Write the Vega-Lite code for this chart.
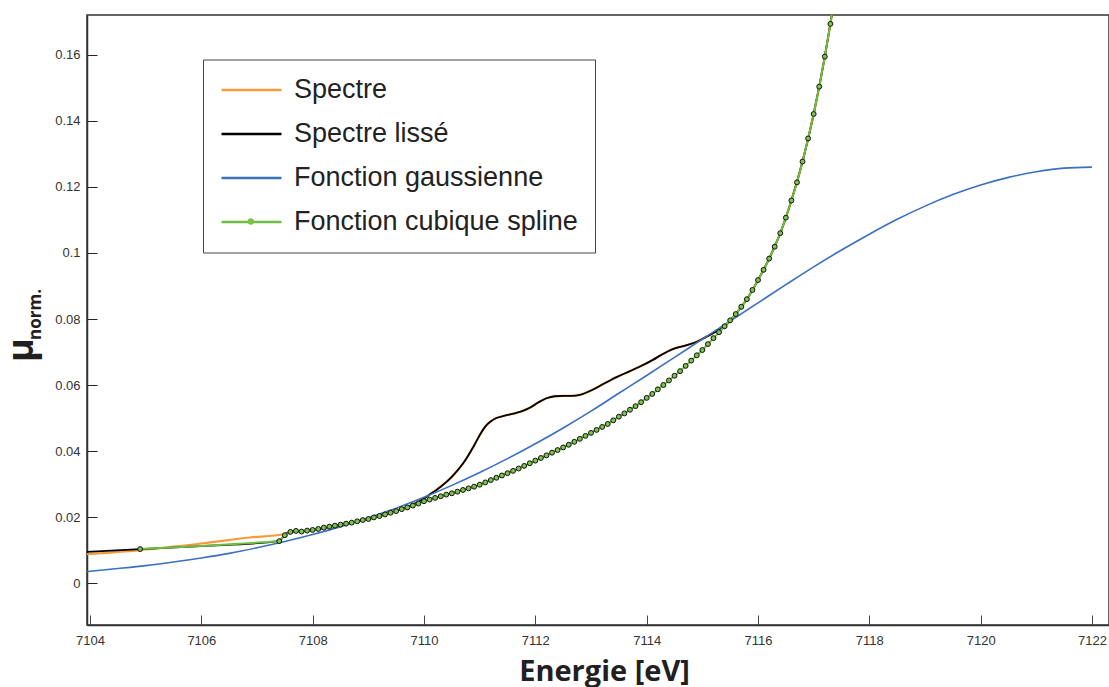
{
  "$schema": "https://vega.github.io/schema/vega-lite/v6.json",
  "width": 1022,
  "height": 610,
  "autosize": {"type": "none"},
  "padding": {"left": 87, "top": 15, "right": 0, "bottom": 62},
  "background": "white",
  "config": {
    "view": {"stroke": "#333333", "strokeWidth": 1.5},
    "font": "Liberation Sans"
  },
  "title": {
    "text": "μ",
    "orient": "left",
    "anchor": "middle",
    "font": "Open Sans",
    "fontSize": 36,
    "fontWeight": "bold",
    "color": "#231f20",
    "offset": -3,
    "baseline": "alphabetic",
    "dx": -30,
    "dy": 40
  },
  "datasets": {
    "spectre": [
      {"e": 7103.9, "mu": 0.0087}, {"e": 7104.9, "mu": 0.0100}, {"e": 7106.0, "mu": 0.0120}, {"e": 7106.87, "mu": 0.0138},
      {"e": 7107.47, "mu": 0.0148}, {"e": 7107.6, "mu": 0.0155}, {"e": 7107.7, "mu": 0.0157}, {"e": 7107.8, "mu": 0.0157},
      {"e": 7108.0, "mu": 0.0161}, {"e": 7108.5, "mu": 0.0177}, {"e": 7109.0, "mu": 0.0194}, {"e": 7109.5, "mu": 0.0219},
      {"e": 7109.7, "mu": 0.0231}, {"e": 7109.9, "mu": 0.0246}, {"e": 7110.1, "mu": 0.0268}, {"e": 7110.3, "mu": 0.0292},
      {"e": 7110.5, "mu": 0.0322}, {"e": 7110.7, "mu": 0.0362}, {"e": 7110.9, "mu": 0.0417}, {"e": 7111.0, "mu": 0.0448},
      {"e": 7111.1, "mu": 0.0474}, {"e": 7111.2, "mu": 0.0490}, {"e": 7111.3, "mu": 0.0500}, {"e": 7111.45, "mu": 0.0507},
      {"e": 7111.6, "mu": 0.0513}, {"e": 7111.75, "mu": 0.0520}, {"e": 7111.9, "mu": 0.0531}, {"e": 7112.05, "mu": 0.0547},
      {"e": 7112.2, "mu": 0.0560}, {"e": 7112.35, "mu": 0.0566}, {"e": 7112.5, "mu": 0.0567}, {"e": 7112.65, "mu": 0.0567},
      {"e": 7112.8, "mu": 0.0570}, {"e": 7112.98, "mu": 0.0582}, {"e": 7113.22, "mu": 0.0603},
      {"e": 7113.46, "mu": 0.0624}, {"e": 7113.7, "mu": 0.0642}, {"e": 7113.88, "mu": 0.0656}, {"e": 7114.12, "mu": 0.0677},
      {"e": 7114.3, "mu": 0.0695}, {"e": 7114.47, "mu": 0.0709}, {"e": 7114.72, "mu": 0.0721}, {"e": 7114.9, "mu": 0.0731},
      {"e": 7115.07, "mu": 0.0746}, {"e": 7115.25, "mu": 0.0762}, {"e": 7115.4, "mu": 0.0778}, {"e": 7115.6, "mu": 0.0815},
      {"e": 7115.8, "mu": 0.0860}, {"e": 7116.0, "mu": 0.0918}, {"e": 7116.2, "mu": 0.0983}, {"e": 7116.4, "mu": 0.1060},
      {"e": 7116.6, "mu": 0.1159}, {"e": 7116.8, "mu": 0.1277}, {"e": 7117.0, "mu": 0.1421}, {"e": 7117.2, "mu": 0.1595},
      {"e": 7117.3, "mu": 0.1694}, {"e": 7117.4, "mu": 0.1800}
    ],
    "lisse": [
      {"e": 7103.9, "mu": 0.0094}, {"e": 7104.9, "mu": 0.0103}, {"e": 7106.0, "mu": 0.0112}, {"e": 7107.4, "mu": 0.0127},
      {"e": 7107.5, "mu": 0.0147}, {"e": 7107.6, "mu": 0.0155}, {"e": 7107.7, "mu": 0.0157}, {"e": 7107.8, "mu": 0.0157},
      {"e": 7108.0, "mu": 0.0161}, {"e": 7108.5, "mu": 0.0177}, {"e": 7109.0, "mu": 0.0194}, {"e": 7109.5, "mu": 0.0219},
      {"e": 7109.7, "mu": 0.0231}, {"e": 7109.9, "mu": 0.0246}, {"e": 7110.1, "mu": 0.0268}, {"e": 7110.3, "mu": 0.0292},
      {"e": 7110.5, "mu": 0.0322}, {"e": 7110.7, "mu": 0.0362}, {"e": 7110.9, "mu": 0.0417}, {"e": 7111.0, "mu": 0.0448},
      {"e": 7111.1, "mu": 0.0474}, {"e": 7111.2, "mu": 0.0490}, {"e": 7111.3, "mu": 0.0500}, {"e": 7111.45, "mu": 0.0507},
      {"e": 7111.6, "mu": 0.0513}, {"e": 7111.75, "mu": 0.0520}, {"e": 7111.9, "mu": 0.0531}, {"e": 7112.05, "mu": 0.0547},
      {"e": 7112.2, "mu": 0.0560}, {"e": 7112.35, "mu": 0.0566}, {"e": 7112.5, "mu": 0.0567}, {"e": 7112.65, "mu": 0.0567},
      {"e": 7112.8, "mu": 0.0570}, {"e": 7112.98, "mu": 0.0582}, {"e": 7113.22, "mu": 0.0603},
      {"e": 7113.46, "mu": 0.0624}, {"e": 7113.7, "mu": 0.0642}, {"e": 7113.88, "mu": 0.0656}, {"e": 7114.12, "mu": 0.0677},
      {"e": 7114.3, "mu": 0.0695}, {"e": 7114.47, "mu": 0.0709}, {"e": 7114.72, "mu": 0.0721}, {"e": 7114.9, "mu": 0.0731},
      {"e": 7115.07, "mu": 0.0746}, {"e": 7115.25, "mu": 0.0762}, {"e": 7115.4, "mu": 0.0778}, {"e": 7115.6, "mu": 0.0815},
      {"e": 7115.8, "mu": 0.0860}, {"e": 7116.0, "mu": 0.0918}, {"e": 7116.2, "mu": 0.0983}, {"e": 7116.4, "mu": 0.1060},
      {"e": 7116.6, "mu": 0.1159}, {"e": 7116.8, "mu": 0.1277}, {"e": 7117.0, "mu": 0.1421}, {"e": 7117.2, "mu": 0.1595},
      {"e": 7117.3, "mu": 0.1694}, {"e": 7117.4, "mu": 0.1800}
    ],
    "gauss": [
      {"e": 7103.9, "mu": 0.0034}, {"e": 7104.5, "mu": 0.0044}, {"e": 7105.0, "mu": 0.0053}, {"e": 7105.5, "mu": 0.0064},
      {"e": 7106.0, "mu": 0.0076}, {"e": 7106.5, "mu": 0.0090}, {"e": 7107.0, "mu": 0.0107}, {"e": 7107.5, "mu": 0.0126},
      {"e": 7108.0, "mu": 0.0147}, {"e": 7108.5, "mu": 0.0171}, {"e": 7109.0, "mu": 0.0198}, {"e": 7109.5, "mu": 0.0227},
      {"e": 7110.0, "mu": 0.0260}, {"e": 7110.5, "mu": 0.0296}, {"e": 7111.0, "mu": 0.0335}, {"e": 7111.5, "mu": 0.0377},
      {"e": 7112.0, "mu": 0.0422}, {"e": 7112.5, "mu": 0.0470}, {"e": 7113.0, "mu": 0.0521}, {"e": 7113.5, "mu": 0.0575},
      {"e": 7114.0, "mu": 0.0629}, {"e": 7114.5, "mu": 0.0684}, {"e": 7115.0, "mu": 0.0739}, {"e": 7115.5, "mu": 0.0794},
      {"e": 7116.0, "mu": 0.0849}, {"e": 7116.5, "mu": 0.0904}, {"e": 7117.0, "mu": 0.0958}, {"e": 7117.5, "mu": 0.1009},
      {"e": 7118.0, "mu": 0.1057}, {"e": 7118.5, "mu": 0.1102}, {"e": 7119.0, "mu": 0.1142}, {"e": 7119.5, "mu": 0.1177},
      {"e": 7120.0, "mu": 0.1206}, {"e": 7120.5, "mu": 0.1229}, {"e": 7121.0, "mu": 0.1246}, {"e": 7121.5, "mu": 0.1257},
      {"e": 7122.0, "mu": 0.1260}
    ],
    "spline": [
      {"e": 7104.9, "mu": 0.0103, "knot": true}, {"e": 7106.0, "mu": 0.0112, "knot": false}, {"e": 7107.4, "mu": 0.0127, "knot": true},
      {"e": 7107.5, "mu": 0.0145, "knot": true}, {"e": 7107.6, "mu": 0.0155, "knot": true}, {"e": 7107.7, "mu": 0.0158, "knot": true},
      {"e": 7107.8, "mu": 0.0156, "knot": true}, {"e": 7107.9, "mu": 0.0159, "knot": true}, {"e": 7108.0, "mu": 0.0161, "knot": true},
      {"e": 7108.1, "mu": 0.0164, "knot": true}, {"e": 7108.2, "mu": 0.0168, "knot": true}, {"e": 7108.3, "mu": 0.0171, "knot": true},
      {"e": 7108.4, "mu": 0.0174, "knot": true}, {"e": 7108.5, "mu": 0.0177, "knot": true}, {"e": 7108.6, "mu": 0.0180, "knot": true},
      {"e": 7108.7, "mu": 0.0183, "knot": true}, {"e": 7108.8, "mu": 0.0187, "knot": true}, {"e": 7108.9, "mu": 0.0191, "knot": true},
      {"e": 7109.0, "mu": 0.0194, "knot": true}, {"e": 7109.1, "mu": 0.0199, "knot": true}, {"e": 7109.2, "mu": 0.0203, "knot": true},
      {"e": 7109.3, "mu": 0.0208, "knot": true}, {"e": 7109.4, "mu": 0.0213, "knot": true}, {"e": 7109.5, "mu": 0.0218, "knot": true},
      {"e": 7109.6, "mu": 0.0224, "knot": true}, {"e": 7109.7, "mu": 0.0229, "knot": true}, {"e": 7109.8, "mu": 0.0235, "knot": true},
      {"e": 7109.9, "mu": 0.0241, "knot": true}, {"e": 7110.0, "mu": 0.0248, "knot": true}, {"e": 7110.1, "mu": 0.0253, "knot": true},
      {"e": 7110.2, "mu": 0.0258, "knot": true}, {"e": 7110.3, "mu": 0.0263, "knot": true}, {"e": 7110.4, "mu": 0.0268, "knot": true},
      {"e": 7110.5, "mu": 0.0272, "knot": true}, {"e": 7110.6, "mu": 0.0277, "knot": true}, {"e": 7110.7, "mu": 0.0282, "knot": true},
      {"e": 7110.8, "mu": 0.0287, "knot": true}, {"e": 7110.9, "mu": 0.0292, "knot": true}, {"e": 7111.0, "mu": 0.0298, "knot": true},
      {"e": 7111.1, "mu": 0.0305, "knot": true}, {"e": 7111.2, "mu": 0.0312, "knot": true}, {"e": 7111.3, "mu": 0.0319, "knot": true},
      {"e": 7111.4, "mu": 0.0326, "knot": true}, {"e": 7111.5, "mu": 0.0333, "knot": true}, {"e": 7111.6, "mu": 0.0340, "knot": true},
      {"e": 7111.7, "mu": 0.0347, "knot": true}, {"e": 7111.8, "mu": 0.0355, "knot": true}, {"e": 7111.9, "mu": 0.0363, "knot": true},
      {"e": 7112.0, "mu": 0.0371, "knot": true}, {"e": 7112.1, "mu": 0.0379, "knot": true}, {"e": 7112.2, "mu": 0.0387, "knot": true},
      {"e": 7112.3, "mu": 0.0395, "knot": true}, {"e": 7112.4, "mu": 0.0403, "knot": true}, {"e": 7112.5, "mu": 0.0411, "knot": true},
      {"e": 7112.6, "mu": 0.0419, "knot": true}, {"e": 7112.7, "mu": 0.0428, "knot": true}, {"e": 7112.8, "mu": 0.0437, "knot": true},
      {"e": 7112.9, "mu": 0.0446, "knot": true}, {"e": 7113.0, "mu": 0.0455, "knot": true}, {"e": 7113.1, "mu": 0.0464, "knot": true},
      {"e": 7113.2, "mu": 0.0473, "knot": true}, {"e": 7113.3, "mu": 0.0482, "knot": true}, {"e": 7113.4, "mu": 0.0493, "knot": true},
      {"e": 7113.5, "mu": 0.0504, "knot": true}, {"e": 7113.6, "mu": 0.0514, "knot": true}, {"e": 7113.7, "mu": 0.0525, "knot": true},
      {"e": 7113.8, "mu": 0.0536, "knot": true}, {"e": 7113.9, "mu": 0.0548, "knot": true}, {"e": 7114.0, "mu": 0.0561, "knot": true},
      {"e": 7114.1, "mu": 0.0573, "knot": true}, {"e": 7114.2, "mu": 0.0587, "knot": true}, {"e": 7114.3, "mu": 0.0600, "knot": true},
      {"e": 7114.4, "mu": 0.0614, "knot": true}, {"e": 7114.5, "mu": 0.0628, "knot": true}, {"e": 7114.6, "mu": 0.0642, "knot": true},
      {"e": 7114.7, "mu": 0.0658, "knot": true}, {"e": 7114.8, "mu": 0.0674, "knot": true}, {"e": 7114.9, "mu": 0.0690, "knot": true},
      {"e": 7115.0, "mu": 0.0706, "knot": true}, {"e": 7115.1, "mu": 0.0724, "knot": true}, {"e": 7115.2, "mu": 0.0742, "knot": true},
      {"e": 7115.3, "mu": 0.0760, "knot": true}, {"e": 7115.4, "mu": 0.0778, "knot": true}, {"e": 7115.5, "mu": 0.0796, "knot": true},
      {"e": 7115.6, "mu": 0.0815, "knot": true}, {"e": 7115.7, "mu": 0.0837, "knot": true}, {"e": 7115.8, "mu": 0.0860, "knot": true},
      {"e": 7115.9, "mu": 0.0888, "knot": true}, {"e": 7116.0, "mu": 0.0918, "knot": true}, {"e": 7116.1, "mu": 0.0949, "knot": true},
      {"e": 7116.2, "mu": 0.0983, "knot": true}, {"e": 7116.3, "mu": 0.1019, "knot": true}, {"e": 7116.4, "mu": 0.1060, "knot": true},
      {"e": 7116.5, "mu": 0.1107, "knot": true}, {"e": 7116.6, "mu": 0.1159, "knot": true}, {"e": 7116.7, "mu": 0.1214, "knot": true},
      {"e": 7116.8, "mu": 0.1277, "knot": true}, {"e": 7116.9, "mu": 0.1347, "knot": true}, {"e": 7117.0, "mu": 0.1421, "knot": true},
      {"e": 7117.1, "mu": 0.1504, "knot": true}, {"e": 7117.2, "mu": 0.1595, "knot": true}, {"e": 7117.3, "mu": 0.1694, "knot": true},
      {"e": 7117.4, "mu": 0.1800, "knot": false}
    ]
  },
  "encoding": {
    "x": {
      "field": "e", "type": "quantitative",
      "scale": {"domain": [7103.946, 7122.305], "nice": false, "zero": false},
      "axis": {
        "title": "Energie [eV]",
        "values": [7104, 7106, 7108, 7110, 7112, 7114, 7116, 7118, 7120, 7122],
        "format": "d",
        "grid": false,
        "tickSize": -10, "tickColor": "#444444", "tickWidth": 1,
        "domainColor": "#333333", "domainWidth": 1.5,
        "labelPadding": 19, "labelFont": "Liberation Sans", "labelFontSize": 13, "labelColor": "#333333",
        "titleFont": "Open Sans", "titleFontSize": 29, "titleFontWeight": "bold", "titleColor": "#231f20",
        "titlePadding": 10, "titleX": 517, "titleAlign": "center"
      }
    },
    "y": {
      "field": "mu", "type": "quantitative",
      "scale": {"domain": [-0.0127, 0.1721], "nice": false, "zero": false},
      "axis": {
        "title": "norm.",
        "values": [0, 0.02, 0.04, 0.06, 0.08, 0.1, 0.12, 0.14, 0.16],
        "format": "~g",
        "grid": false,
        "tickSize": -10, "tickColor": "#222222", "tickWidth": 1,
        "domainColor": "#333333", "domainWidth": 1.5,
        "labelPadding": 17, "labelFont": "Liberation Sans", "labelFontSize": 13, "labelColor": "#333333",
        "titleFont": "Open Sans", "titleFontSize": 17, "titleFontWeight": "bold", "titleColor": "#231f20",
        "titleAngle": -90, "titleAlign": "center", "titleBaseline": "alphabetic",
        "titleX": -47, "titleY": 299
      }
    }
  },
  "layer": [
    {
      "data": {"name": "spectre"},
      "mark": {"type": "line", "clip": true, "strokeWidth": 2.2, "interpolate": "monotone"},
      "encoding": {
        "color": {
          "datum": "Spectre", "type": "nominal",
          "scale": {
            "domain": ["Spectre", "Spectre lissé", "Fonction gaussienne", "Fonction cubique spline"],
            "range": ["#F59B3A", "#000000", "#3B6FC0", "#70BF44"]
          },
          "legend": {
            "orient": "none", "legendX": 116, "legendY": 44.5,
            "title": null,
            "symbolType": "stroke", "symbolSize": 3600, "symbolStrokeWidth": 2.5,
            "clipHeight": 27, "rowPadding": 16, "padding": 17,
            "labelFont": "Liberation Sans", "labelFontSize": 27, "labelColor": "#222222",
            "labelOffset": 11, "labelLimit": 500,
            "strokeColor": "#444444", "fillColor": "white"
          }
        }
      }
    },
    {
      "data": {"name": "lisse"},
      "mark": {"type": "line", "clip": true, "strokeWidth": 1.8, "interpolate": "monotone"},
      "encoding": {"color": {"datum": "Spectre lissé", "type": "nominal"}}
    },
    {
      "data": {"name": "gauss"},
      "mark": {"type": "line", "clip": true, "strokeWidth": 1.6, "interpolate": "monotone"},
      "encoding": {"color": {"datum": "Fonction gaussienne", "type": "nominal"}}
    },
    {
      "data": {"name": "spline"},
      "mark": {"type": "line", "clip": true, "strokeWidth": 2},
      "encoding": {"color": {"datum": "Fonction cubique spline", "type": "nominal"}}
    },
    {
      "data": {"name": "spline"},
      "transform": [{"filter": "datum.knot"}],
      "mark": {"type": "point", "clip": true, "filled": true, "fill": "#7DC24B", "stroke": "#111111", "strokeWidth": 1, "size": 24, "opacity": 1},
      "encoding": {
        "shape": {
          "datum": "Fonction cubique spline", "type": "nominal",
          "scale": {"domain": ["Fonction cubique spline"], "range": ["circle"]},
          "legend": {
            "orient": "none", "legendX": 159.8, "legendY": 193,
            "title": null, "padding": 0, "clipHeight": 27,
            "symbolSize": 40, "symbolFillColor": "#7DC24B", "symbolStrokeColor": "#111111", "symbolStrokeWidth": 1,
            "labelExpr": "''", "labelFontSize": 1
          }
        }
      }
    }
  ]
}
